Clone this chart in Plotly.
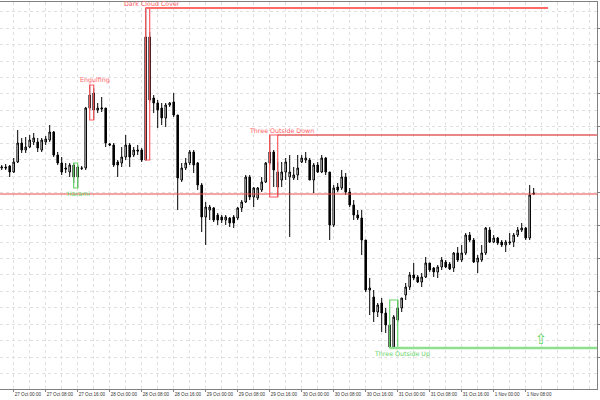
import plotly.graph_objects as go

# ---- data (H1 candles, price in points) ----
opens = [232,233,234,228,238,257,250,253,258,258,250,258,260,268,245,237,232,228,235,223,
         231.5,232,292,307,290,291,292,256,255,238,237,243,255,245,250,250,240,363,302,297,
         292,282,295,298,285,220,232,237,248,237,215,183,190,192,185,183,180,182,183,182,
         192,198,223,203,202,210,218,237,248,228,220,228,223,222,225,238,240,240,220,235,
         228,242,228,175,213,212,223,208,195,185,182,160,110,103,88,97,87,75,53,80,
         92,105,113,125,123,118,123,137,132,128,133,138,136,132,147,140,147,165,160,138,
         140,147,170,158,162,158,155,157,158,165,170,172,162,207]
highs = [235,236,235,242,270,262,263,265,267,262,262,264,275,269,248,243,237,237,237,235,
         234,293,315,312,297,303,292,257,257,240,253,265,257,253,255,252,392,368,305,300,
         297,297,298,307,285,237,242,250,250,238,217,198,195,193,187,185,185,183,185,193,
         200,225,225,213,213,223,238,265,250,238,238,242,245,233,245,245,248,242,237,238,
         245,243,228,215,217,230,227,212,200,190,190,160,122,110,97,102,92,75,85,100,
         102,117,128,137,125,127,143,137,133,135,143,140,138,148,153,155,167,168,162,145,
         155,173,173,165,163,160,160,167,167,173,177,173,215,212]
lows = [230,230,223,227,237,247,247,252,255,248,248,255,258,243,235,225,227,223,217,212,
        230,230,290,280,287,288,253,254,233,223,233,240,233,243,245,238,240,298,287,272,
        275,273,293,283,190,218,230,235,227,210,168,155,180,178,175,177,175,173,172,180,
        188,197,200,193,200,208,217,235,213,203,213,220,163,220,220,237,237,220,207,227,
        227,225,160,173,208,210,205,193,180,180,145,108,85,78,83,68,67,52,52,78,
        88,100,110,120,117,113,122,128,123,122,130,132,130,128,138,138,145,158,137,127,
        138,145,157,157,155,153,148,155,153,163,168,160,160,205]
closes = [233,232,228,238,257,250,253,260,262,252,260,261,268,245,237,228,231,235,223,233,
          232,292,305,290,292,292,257,255,235,235,243,255,243,250,249,240,363,300,297,290,
          282,295,297,285,222,232,237,248,235,215,183,193,193,180,180,180,183,177,177,192,
          198,223,203,212,212,218,237,248,230,213,228,238,228,225,232,242,242,220,235,228,
          242,228,175,212,210,223,208,195,185,182,160,110,112,88,95,87,75,53,83,92,
          102,113,125,122,118,123,137,130,128,133,140,133,131,147,140,147,165,160,138,142,
          147,172,158,162,157,155,158,158,165,170,172,162,205,206]
candle_idx = list(range(len(opens)))

tick_labels = ["27 Oct 00:00", "27 Oct 08:00", "27 Oct 16:00", "28 Oct 00:00", "28 Oct 08:00",
               "28 Oct 16:00", "29 Oct 00:00", "29 Oct 08:00", "29 Oct 16:00", "30 Oct 00:00",
               "30 Oct 08:00", "30 Oct 16:00", "31 Oct 00:00", "31 Oct 08:00", "31 Oct 16:00",
               "1 Nov 00:00", "1 Nov 08:00"]
tick_idx = [3 + 8 * k for k in range(len(tick_labels))]

RED = "#ff5a64"
GREEN = "#66d466"
# patterns: (name, first candle, last candle, colour, label side, label x offset in candles)
patterns = [
    ("Harami", 18, 19, GREEN, "below", 0.6),
    ("Engulfing", 22, 23, RED, "above", 0.8),
    ("Dark Cloud Cover", 36, 37, RED, "above", 1.0),
    ("Three Outside Down", 67, 69, RED, "above", 2.0),
    ("Three Outside Up", 97, 99, GREEN, "below", 2.0),
]

fig = go.Figure()
fig.add_trace(go.Candlestick(
    x=candle_idx, open=opens, high=highs, low=lows, close=closes,
    increasing=dict(line=dict(color="black", width=1), fillcolor="white"),
    decreasing=dict(line=dict(color="black", width=1), fillcolor="black"),
    hoverinfo="skip", showlegend=False,
))

shapes = []
annotations = []
for name, a, b, col, pos, dx in patterns:
    top = max(highs[a:b + 1])
    bot = min(lows[a:b + 1])
    shapes.append(dict(type="rect", xref="x", yref="y", x0=a, x1=b, y0=bot, y1=top,
                       line=dict(color=col, width=1.2), fillcolor="rgba(0,0,0,0)", layer="above"))
    annotations.append(dict(x=(a + b) / 2 + dx, y=top if pos == "above" else bot,
                            xref="x", yref="y", text=name, showarrow=False, borderpad=0,
                            yanchor="bottom" if pos == "above" else "top",
                            yshift=0 if pos == "above" else -0.5,
                            font=dict(family="DejaVu Sans", size=6.3, color=col)))

# rays from patterns
shapes.append(dict(type="line", xref="x", yref="y", x0=36, x1=136.6,
                   y0=max(highs[36:38]), y1=max(highs[36:38]),
                   line=dict(color="#ff6a6a", width=2)))
shapes.append(dict(type="line", xref="x", yref="y", x0=69, x1=148.8,
                   y0=max(highs[67:70]), y1=max(highs[67:70]),
                   line=dict(color="#d41010", width=1)))
shapes.append(dict(type="line", xref="x", yref="y", x0=97, x1=148.8,
                   y0=min(lows[97:100]), y1=min(lows[97:100]),
                   line=dict(color="#8ee08e", width=2.5)))
# bid line at last close
shapes.append(dict(type="line", xref="paper", yref="y", x0=0, x1=1,
                   y0=closes[-1], y1=closes[-1], line=dict(color="#f04848", width=1)))

annotations.append(dict(x=134.8, y=61, xref="x", yref="y", text="⇧", showarrow=False,
                        font=dict(family="DejaVu Sans", size=14, color="#5cd65c")))

grid = dict(gridcolor="#e0e0e0", griddash="dot", gridwidth=1)

fig.update_layout(
    width=600, height=400,
    margin=dict(l=0, r=3, t=2, b=11, pad=0),
    paper_bgcolor="white", plot_bgcolor="white",
    shapes=shapes, annotations=annotations,
    boxgap=0.45,
    showlegend=False,
    xaxis=dict(range=[-0.425, 148.825], rangeslider=dict(visible=False), automargin=False,
               tickmode="array", tickvals=tick_idx, ticktext=tick_labels, tickangle=0,
               ticks="outside", ticklen=2, tickcolor="#808080",
               ticklabelposition="outside right",
               tickfont=dict(family="Liberation Sans", size=4.6, color="#333333"),
               showline=True, linecolor="#808080", linewidth=1, mirror=True,
               showgrid=True, **grid,
               minor=dict(tickmode="linear", tick0=3, dtick=4, showgrid=True, **grid),
               zeroline=False, fixedrange=True),
    yaxis=dict(range=[11, 398], side="right", showticklabels=False, automargin=False,
               tickmode="linear", tick0=371.85, dtick=32.9, ticks="outside", ticklen=3,
               tickcolor="#808080",
               showline=True, linecolor="#808080", linewidth=1,
               showgrid=True, **grid,
               minor=dict(tickmode="linear", tick0=388.3, dtick=16.45, showgrid=True, **grid),
               zeroline=False, fixedrange=True),
)

fig.write_html("out.html", config={"displayModeBar": False},
               post_script="document.body.style.margin='0';document.body.style.padding='0';")
